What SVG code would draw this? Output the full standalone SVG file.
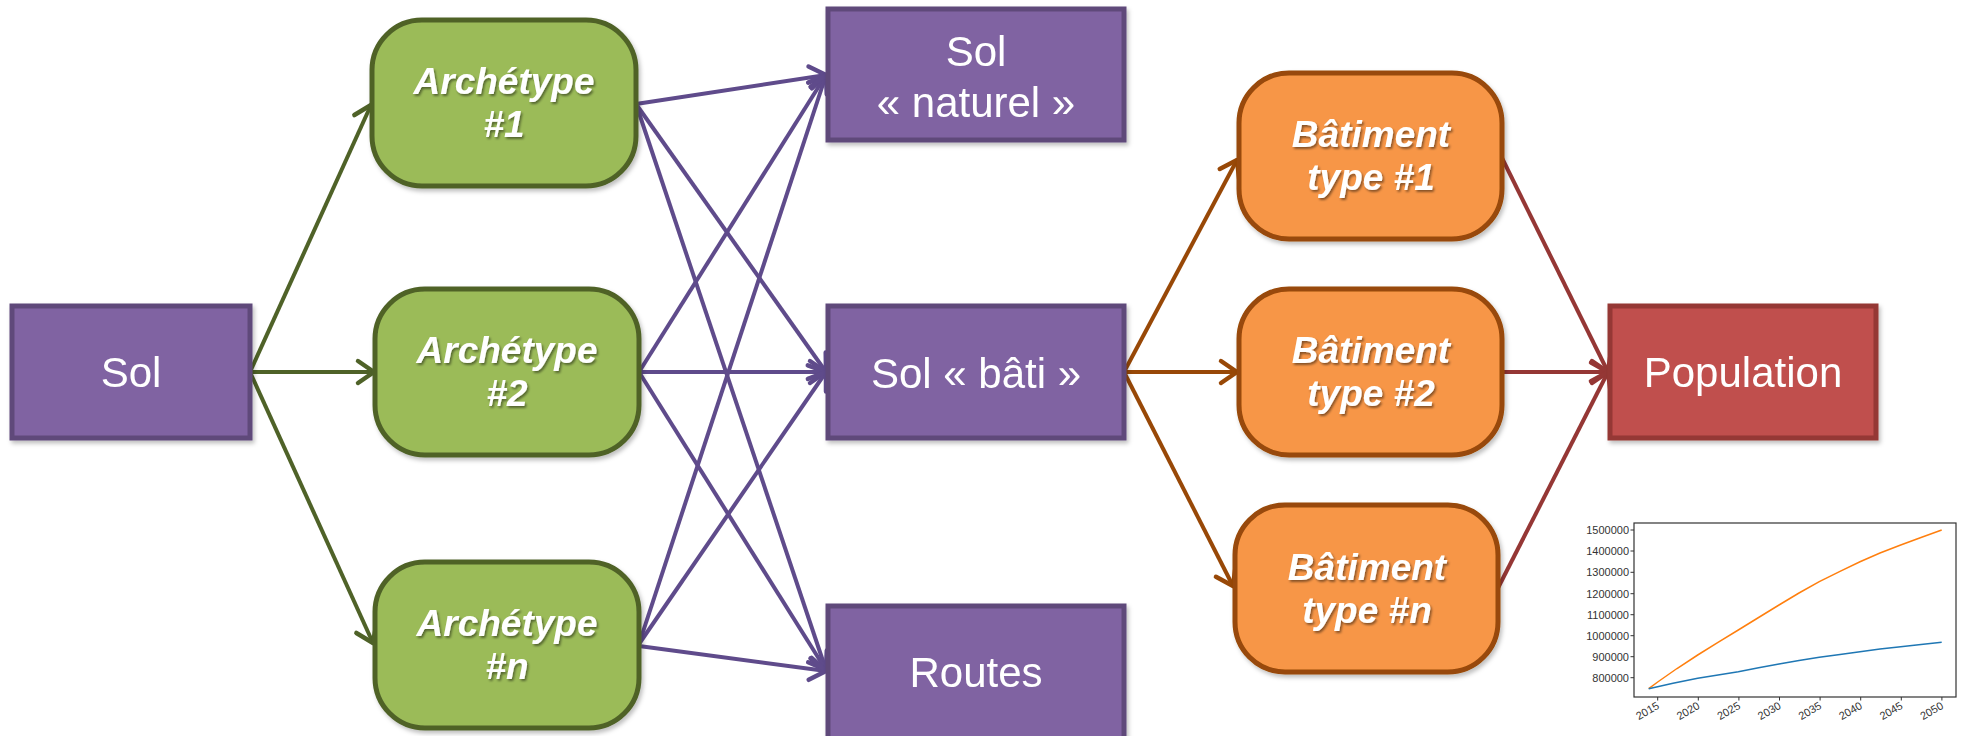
<svg xmlns="http://www.w3.org/2000/svg" width="1962" height="736" viewBox="0 0 1962 736">
<style>
.pur{fill:#8064a2;stroke:#5f497a;stroke-width:5}
.grn{fill:#9bbb59;stroke:#4f6228;stroke-width:5}
.org{fill:#f79646;stroke:#984807;stroke-width:5}
.red{fill:#c0504d;stroke:#953735;stroke-width:5}
.t{font-family:"Liberation Sans",Arial,sans-serif;font-size:42px;fill:#fff;text-anchor:middle}
.ti{font-family:"Liberation Sans",Arial,sans-serif;font-size:37px;font-weight:bold;font-style:italic;fill:#fff;text-anchor:middle}
.cg{stroke:#4f6228;stroke-width:4;fill:none}
.cp{stroke:#5f4b8b;stroke-width:4;fill:none}
.co{stroke:#984807;stroke-width:4;fill:none}
.cr{stroke:#953735;stroke-width:4;fill:none}
.ax{font-family:"Liberation Sans",Arial,sans-serif;font-size:11px;fill:#333}
</style>
<defs>
<filter id="sh" x="-10%" y="-10%" width="130%" height="130%"><feDropShadow dx="2" dy="3" stdDeviation="2" flood-color="#000" flood-opacity="0.25"/></filter>
<filter id="tsh" x="-10%" y="-20%" width="130%" height="150%"><feDropShadow dx="1.5" dy="2" stdDeviation="1" flood-color="#000" flood-opacity="0.45"/></filter>
<marker id="ag" markerUnits="userSpaceOnUse" markerWidth="28" markerHeight="30" viewBox="-22 -15 28 30" refX="0" refY="0" orient="auto"><path d="M-16,-11 L0,0 L-16,11" fill="none" stroke="#4f6228" stroke-width="4.5" stroke-linecap="round" stroke-linejoin="round"/></marker>
<marker id="ap" markerUnits="userSpaceOnUse" markerWidth="28" markerHeight="30" viewBox="-22 -15 28 30" refX="0" refY="0" orient="auto"><path d="M-16,-11 L0,0 L-16,11" fill="none" stroke="#5f4b8b" stroke-width="4.5" stroke-linecap="round" stroke-linejoin="round"/></marker>
<marker id="ao" markerUnits="userSpaceOnUse" markerWidth="28" markerHeight="30" viewBox="-22 -15 28 30" refX="0" refY="0" orient="auto"><path d="M-16,-11 L0,0 L-16,11" fill="none" stroke="#984807" stroke-width="4.5" stroke-linecap="round" stroke-linejoin="round"/></marker>
<marker id="ar" markerUnits="userSpaceOnUse" markerWidth="28" markerHeight="30" viewBox="-22 -15 28 30" refX="0" refY="0" orient="auto"><path d="M-16,-11 L0,0 L-16,11" fill="none" stroke="#953735" stroke-width="4.5" stroke-linecap="round" stroke-linejoin="round"/></marker>
</defs>
<rect width="1962" height="736" fill="#fff"/>

<g id="connectors">
<line class="cg" x1="250" y1="372" x2="371" y2="105" marker-end="url(#ag)"/>
<line class="cg" x1="250" y1="372" x2="374" y2="372" marker-end="url(#ag)"/>
<line class="cg" x1="250" y1="372" x2="373" y2="643" marker-end="url(#ag)"/>

<line class="cp" x1="636" y1="104" x2="826" y2="75" marker-end="url(#ap)"/>
<line class="cp" x1="636" y1="104" x2="826" y2="372" marker-end="url(#ap)"/>
<line class="cp" x1="636" y1="104" x2="826" y2="670" marker-end="url(#ap)"/>
<line class="cp" x1="639" y1="372" x2="826" y2="75" marker-end="url(#ap)"/>
<line class="cp" x1="639" y1="372" x2="826" y2="372" marker-end="url(#ap)"/>
<line class="cp" x1="639" y1="372" x2="826" y2="670" marker-end="url(#ap)"/>
<line class="cp" x1="639" y1="644" x2="826" y2="75" marker-end="url(#ap)"/>
<line class="cp" x1="639" y1="644" x2="826" y2="372" marker-end="url(#ap)"/>
<line class="cp" x1="639" y1="646" x2="826" y2="671" marker-end="url(#ap)"/>

<line class="co" x1="1124" y1="372" x2="1237" y2="160" marker-end="url(#ao)"/>
<line class="co" x1="1124" y1="372" x2="1237" y2="372" marker-end="url(#ao)"/>
<line class="co" x1="1124" y1="372" x2="1233" y2="586" marker-end="url(#ao)"/>

<line class="cr" x1="1502" y1="158" x2="1608" y2="372" marker-end="url(#ar)"/>
<line class="cr" x1="1502" y1="372" x2="1608" y2="372" marker-end="url(#ar)"/>
<line class="cr" x1="1498" y1="588" x2="1608" y2="372" marker-end="url(#ar)"/>
</g>

<g id="sol" filter="url(#sh)"><rect class="pur" x="12" y="306" width="238" height="132"/><text class="t" x="131" y="387">Sol</text></g>

<g id="archetype1"><rect class="grn" x="372" y="20" width="264" height="166" rx="50" filter="url(#sh)"/><g filter="url(#tsh)"><text class="ti" x="504" y="94">Archétype</text><text class="ti" x="504" y="137">#1</text></g></g>
<g id="archetype2"><rect class="grn" x="375" y="289" width="264" height="166" rx="50" filter="url(#sh)"/><g filter="url(#tsh)"><text class="ti" x="507" y="363">Archétype</text><text class="ti" x="507" y="406">#2</text></g></g>
<g id="archetypen"><rect class="grn" x="375" y="562" width="264" height="166" rx="50" filter="url(#sh)"/><g filter="url(#tsh)"><text class="ti" x="507" y="636">Archétype</text><text class="ti" x="507" y="679">#n</text></g></g>

<g id="sol-naturel" filter="url(#sh)"><rect class="pur" x="828" y="9" width="296" height="131"/><text class="t" x="976" y="66">Sol</text><text class="t" x="976" y="117">« naturel »</text></g>
<g id="sol-bati" filter="url(#sh)"><rect class="pur" x="828" y="306" width="296" height="132"/><text class="t" x="976" y="388">Sol « bâti »</text></g>
<g id="routes" filter="url(#sh)"><rect class="pur" x="828" y="606" width="296" height="136"/><text class="t" x="976" y="687">Routes</text></g>

<g id="batiment1"><rect class="org" x="1239" y="73" width="263" height="166" rx="50" filter="url(#sh)"/><g filter="url(#tsh)"><text class="ti" x="1371" y="147">Bâtiment</text><text class="ti" x="1371" y="190">type #1</text></g></g>
<g id="batiment2"><rect class="org" x="1239" y="289" width="263" height="166" rx="50" filter="url(#sh)"/><g filter="url(#tsh)"><text class="ti" x="1371" y="363">Bâtiment</text><text class="ti" x="1371" y="406">type #2</text></g></g>
<g id="batimentn"><rect class="org" x="1235" y="505" width="263" height="167" rx="50" filter="url(#sh)"/><g filter="url(#tsh)"><text class="ti" x="1367" y="580">Bâtiment</text><text class="ti" x="1367" y="623">type #n</text></g></g>

<g id="population" filter="url(#sh)"><rect class="red" x="1610" y="306" width="266" height="132"/><text class="t" x="1743" y="387">Population</text></g>

<g id="chart">
<rect x="1634" y="523" width="322" height="174" fill="#fff" stroke="#333" stroke-width="1.2"/>
<g stroke="#333" stroke-width="1">
<line x1="1630.5" y1="530" x2="1634" y2="530"/><line x1="1630.5" y1="551" x2="1634" y2="551"/><line x1="1630.5" y1="572.3" x2="1634" y2="572.3"/><line x1="1630.5" y1="593.7" x2="1634" y2="593.7"/><line x1="1630.5" y1="614.7" x2="1634" y2="614.7"/><line x1="1630.5" y1="635.7" x2="1634" y2="635.7"/><line x1="1630.5" y1="656.7" x2="1634" y2="656.7"/><line x1="1630.5" y1="677.7" x2="1634" y2="677.7"/>
<line x1="1657.7" y1="697" x2="1657.7" y2="700.5"/><line x1="1698.3" y1="697" x2="1698.3" y2="700.5"/><line x1="1738.9" y1="697" x2="1738.9" y2="700.5"/><line x1="1779.5" y1="697" x2="1779.5" y2="700.5"/><line x1="1820.1" y1="697" x2="1820.1" y2="700.5"/><line x1="1860.7" y1="697" x2="1860.7" y2="700.5"/><line x1="1901.3" y1="697" x2="1901.3" y2="700.5"/><line x1="1941.9" y1="697" x2="1941.9" y2="700.5"/>
</g>
<g class="ax" text-anchor="end">
<text x="1629" y="534">1500000</text><text x="1629" y="555">1400000</text><text x="1629" y="576.3">1300000</text><text x="1629" y="597.7">1200000</text><text x="1629" y="618.7">1100000</text><text x="1629" y="639.7">1000000</text><text x="1629" y="660.7">900000</text><text x="1629" y="681.7">800000</text>
</g>
<g class="ax" text-anchor="end" font-size="10.5">
<text transform="translate(1660,708) rotate(-30)">2015</text>
<text transform="translate(1700.6,708) rotate(-30)">2020</text>
<text transform="translate(1741.2,708) rotate(-30)">2025</text>
<text transform="translate(1781.8,708) rotate(-30)">2030</text>
<text transform="translate(1822.4,708) rotate(-30)">2035</text>
<text transform="translate(1863,708) rotate(-30)">2040</text>
<text transform="translate(1903.6,708) rotate(-30)">2045</text>
<text transform="translate(1944.2,708) rotate(-30)">2050</text>
</g>
<polyline fill="none" stroke="#ff7f0e" stroke-width="1.5" points="1648.7,688.7 1657.7,682 1677,668.5 1697.7,655 1718,642.3 1738.3,630 1758.6,617.5 1779,605 1799,593 1819.3,581.7 1840,571.3 1860,561.7 1880,553 1900.7,545 1921,537.5 1941.7,530"/>
<polyline fill="none" stroke="#1f77b4" stroke-width="1.5" points="1648.7,688.7 1673,683.3 1697.7,678.3 1718,675 1738.3,671.7 1758.6,667.8 1779,664 1799,660.5 1819.3,657.3 1840,654.4 1860,651.7 1880,649.1 1900.7,646.7 1921,644.4 1941.7,642.3"/>
</g>
</svg>
